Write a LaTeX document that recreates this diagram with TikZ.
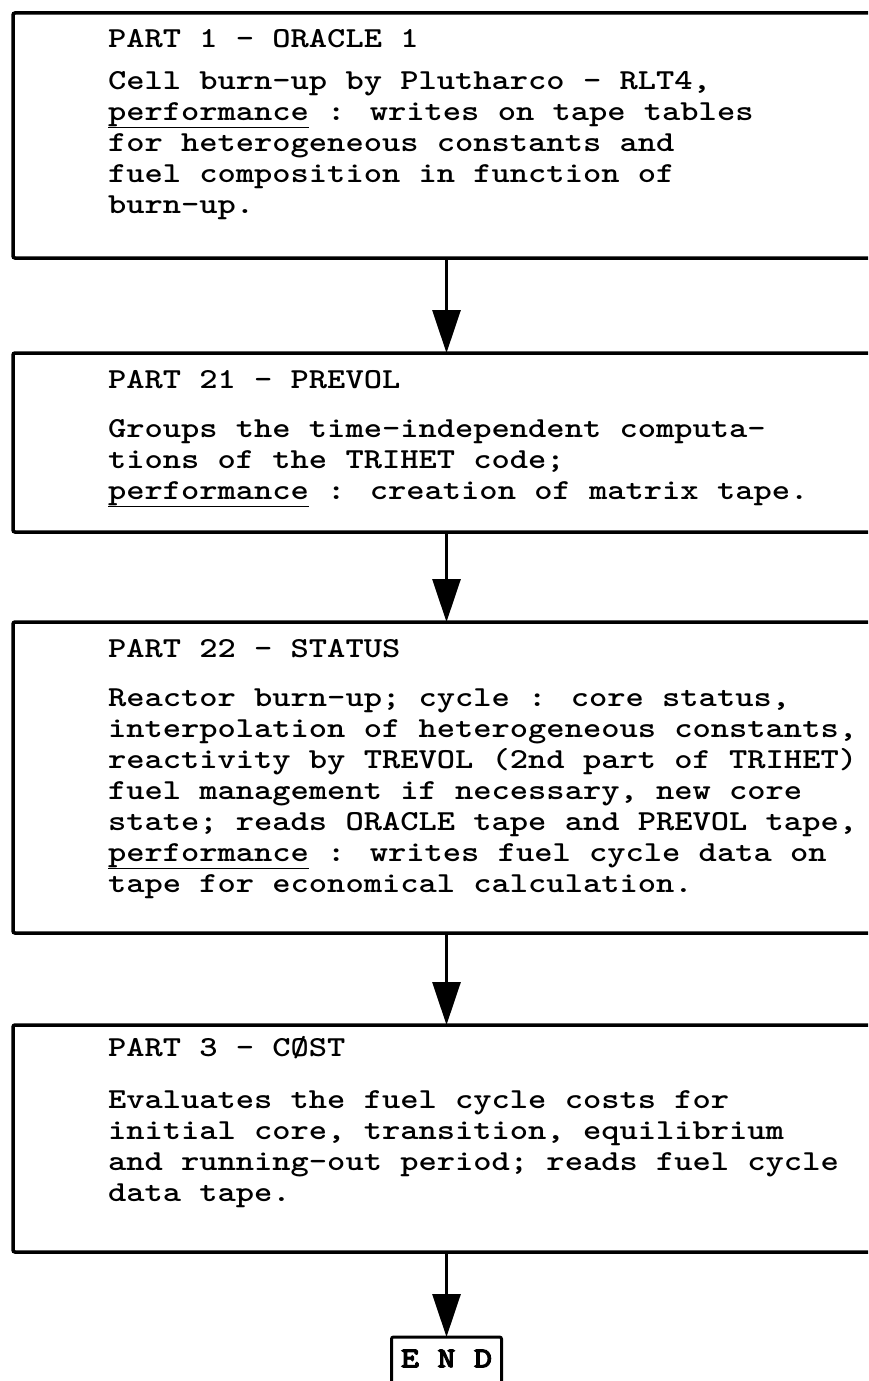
\documentclass[tikz,border=0pt]{standalone}
\usepackage{fontspec}
\usetikzlibrary{arrows.meta}
\newfontfamily\typefont{lmmonolt10-bold}[Extension=.otf, FakeStretch=1.2]
\newfontfamily\endfont{lmmonolt10-bold}[Extension=.otf, FakeStretch=1.2, FakeBold=3]

\begin{document}
\begin{tikzpicture}[x=1pt, y=-1pt, every node/.style={inner sep=0, outer sep=0}]
\useasboundingbox (0,0) rectangle (868,1381);
\clip (0,0) rectangle (868,1381);

\tikzset{partbox/.style={draw, line width=3.5pt, rounded corners=2pt, anchor=north west, minimum width=867pt}}
\node[partbox, minimum height=245pt] (part1) at (13,13) {};
\node[partbox, minimum height=179pt] (part21) at (13,353) {};
\node[partbox, minimum height=311pt] (part22) at (13,622) {};
\node[partbox, minimum height=227pt] (part3) at (13,1025) {};
\node[draw, line width=3pt, rounded corners=2pt, anchor=north, minimum width=110pt, minimum height=52pt, text depth=9pt,
  font=\endfont\fontsize{29}{31}\selectfont] (end) at (446.5,1337) {E N D};

\tikzset{txtline/.style={anchor=base west, font=\typefont\fontsize{29}{31}\selectfont}}
% part 1
\node[txtline] (title1) at (108,48) {PART 1 - ORACLE 1};
\foreach \txt [count=\i] in {{Cell burn-up by Plutharco - RLT4,},
  {\underline{performance} : writes on tape tables},
  {for heterogeneous constants and},
  {fuel composition in function of},
  {burn-up.}}
  \node[txtline] (body1-\i) at (108, 58+31*\i) {\txt};
% part 21
\node[txtline] (title21) at (108,388) {PART 21 - PREVOL};
\foreach \txt [count=\i] in {{Groups the time-independent computa-},
  {tions of the TRIHET code;},
  {\underline{performance} : creation of matrix tape.}}
  \node[txtline] (body21-\i) at (108, 406+31*\i) {\txt};
% part 22
\node[txtline] (title22) at (108,657) {PART 22 - STATUS};
\foreach \txt [count=\i] in {{Reactor burn-up; cycle : core status,},
  {interpolation of heterogeneous constants,},
  {reactivity by TREVOL (2nd part of TRIHET)},
  {fuel management if necessary, new core},
  {state; reads ORACLE tape and PREVOL tape,},
  {\underline{performance} : writes fuel cycle data on},
  {tape for economical calculation.}}
  \node[txtline] (body22-\i) at (108, 675+31*\i) {\txt};
% part 3
\node[txtline] (title3) at (108,1056) {PART 3 - CØST};
\foreach \txt [count=\i] in {{Evaluates the fuel cycle costs for},
  {initial core, transition, equilibrium},
  {and running-out period; reads fuel cycle},
  {data tape.}}
  \node[txtline] (body3-\i) at (108, 1077+31*\i) {\txt};

\tikzset{flowarrow/.style={-{Triangle[width=28pt,length=43pt]}, line width=3pt}}
\path (part1) edge [flowarrow] (part21);
\path (part21) edge [flowarrow] (part22);
\path (part22) edge [flowarrow] (part3);
\path (part3) edge [flowarrow] (end);
\end{tikzpicture}
\end{document}
